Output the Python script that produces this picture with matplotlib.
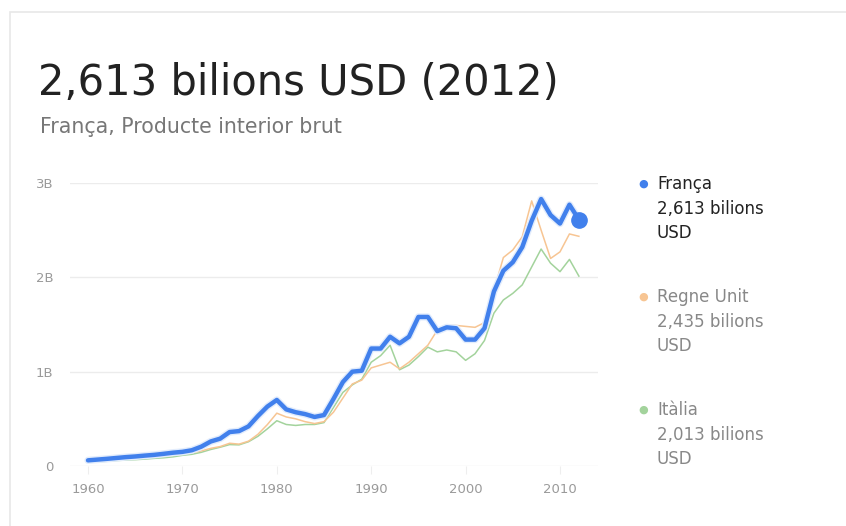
import matplotlib
matplotlib.use("Agg")
import matplotlib.pyplot as plt
from matplotlib.patches import Rectangle

plt.rcParams['font.family'] = ['DejaVu Sans']

years = list(range(1960, 2013))

franca = [0.06, 0.068, 0.076, 0.085, 0.094, 0.101, 0.11, 0.118, 0.129, 0.141,
          0.15, 0.167, 0.205, 0.26, 0.29, 0.36, 0.37, 0.42, 0.53, 0.63,
          0.70, 0.60, 0.57, 0.55, 0.52, 0.54, 0.71, 0.89, 1.00, 1.01,
          1.245, 1.245, 1.37, 1.30, 1.37, 1.58, 1.58, 1.43, 1.47, 1.46,
          1.34, 1.34, 1.46, 1.85, 2.07, 2.16, 2.32, 2.60, 2.83, 2.66,
          2.57, 2.77, 2.613]

regne_unit = [0.072, 0.077, 0.081, 0.086, 0.094, 0.1, 0.106, 0.111, 0.105, 0.113,
              0.124, 0.14, 0.16, 0.187, 0.206, 0.241, 0.232, 0.263, 0.336, 0.439,
              0.56, 0.52, 0.50, 0.47, 0.45, 0.47, 0.57, 0.72, 0.87, 0.91,
              1.04, 1.07, 1.10, 1.03, 1.10, 1.19, 1.28, 1.44, 1.49, 1.49,
              1.48, 1.47, 1.52, 1.86, 2.21, 2.29, 2.43, 2.81, 2.50, 2.20,
              2.27, 2.46, 2.435]

italia = [0.040, 0.045, 0.05, 0.058, 0.063, 0.067, 0.073, 0.081, 0.087, 0.097,
          0.113, 0.124, 0.145, 0.175, 0.199, 0.227, 0.224, 0.257, 0.315, 0.394,
          0.48, 0.44, 0.43, 0.44, 0.44, 0.46, 0.62, 0.78, 0.86, 0.92,
          1.10, 1.17, 1.28, 1.02, 1.07, 1.16, 1.26, 1.21, 1.23, 1.21,
          1.12, 1.19, 1.33, 1.62, 1.76, 1.83, 1.92, 2.11, 2.30, 2.15,
          2.06, 2.19, 2.013]

yticks = [0, 1, 2, 3]
ytick_labels = ['0', '1B', '2B', '3B']
xticks = [1960, 1970, 1980, 1990, 2000, 2010]

title = "2,613 bilions USD (2012)"
subtitle = "França, Producte interior brut"
legend_names = ["França", "Regne Unit", "Itàlia"]
legend_values = ["2,613 bilions\nUSD", "2,435 bilions\nUSD", "2,013 bilions\nUSD"]

c_blue = '#4180ec'
c_orange = '#f7c593'
c_green = '#a3d39c'

W, H = 846, 526
fig = plt.figure(figsize=(W / 100, H / 100), dpi=100)
fig.patch.set_facecolor('white')

# card border
card = Rectangle((10 / W, -0.1), 1.2, 1 - 12 / H + 0.1, transform=fig.transFigure,
                 facecolor='none', edgecolor='#e8e8e8', linewidth=1.2, zorder=-10)
fig.patches.append(card)

fig.text(38 / W, 1 - 95 / H, title, fontsize=30, color='#222222', va='baseline', ha='left')
fig.text(40 / W, 1 - 133 / H, subtitle, fontsize=14.8, color='#777777', va='baseline', ha='left')

ax = fig.add_axes([70 / W, 1 - 466 / H, (598 - 70) / W, (466 - 183) / H])
ax.set_facecolor('none')
ax.plot(years, italia, color=c_green, lw=1.1, zorder=2)
ax.plot(years, regne_unit, color=c_orange, lw=1.1, zorder=3)
ax.plot(years, franca, color='#e2ecfc', lw=5.2, zorder=4, solid_capstyle='round', solid_joinstyle='round')
ax.plot(years, franca, color=c_blue, lw=3.2, zorder=5, solid_capstyle='round', solid_joinstyle='round')
ax.plot([years[-1]], [franca[-1]], 'o', color=c_blue, ms=11, zorder=6)

x0 = 1960 + (70 - 88) / 9.44
x1 = 1960 + (598 - 88) / 9.44
ax.set_xlim(x0, x1)
ax.set_ylim(0, 3)
ax.set_yticks(yticks)
ax.set_yticklabels(ytick_labels)
ax.set_xticks(xticks)
ax.set_xticklabels([str(x) for x in xticks])
ax.grid(axis='y', color='#ececec', lw=1)
ax.set_axisbelow(True)
for s in ax.spines.values():
    s.set_visible(False)
ax.tick_params(axis='y', length=0, pad=12, labelsize=9.5, labelcolor='#9a9a9a')
ax.tick_params(axis='x', length=6, color='#eeeeee', pad=6, labelsize=9.5, labelcolor='#9a9a9a')
for lbl in ax.get_yticklabels():
    lbl.set_horizontalalignment('right')

colors = [c_blue, c_orange, c_green]
name_colors = ['#222222', '#888888', '#888888']
val_colors = ['#222222', '#888888', '#888888']
tops = [184, 297, 410]
for col, nm, val, nc, vc, t in zip(colors, legend_names, legend_values, name_colors, val_colors, tops):
    fig.text(643 / W, 1 - t / H, '\u25cf', color=col, fontsize=8, ha='center', va='center')
    fig.text(657 / W, 1 - t / H, nm, color=nc, fontsize=12, ha='left', va='center')
    fig.text(657 / W, 1 - (t + 16) / H, val, color=vc, fontsize=12, ha='left', va='top',
             linespacing=1.45)

fig.savefig('out.png', dpi=100, facecolor='white')
